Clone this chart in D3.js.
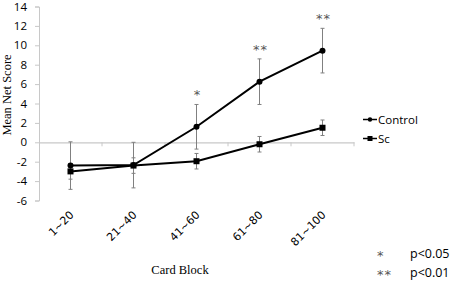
<!DOCTYPE html>
<html><head><meta charset="utf-8">
<script src="https://cdn.jsdelivr.net/npm/d3@7"></script>
<style>body{margin:0;background:#fff}svg{display:block}</style>
</head><body>
<svg id="c" width="454" height="283"></svg>
<script>
const categories = ["1~20","21~40","41~60","61~80","81~100"];
const controlValues = [-2.4, -2.35, 1.6, 6.25, 9.45];
const controlErrors = [2.45, 2.35, 2.3, 2.35, 2.3];
const scValues = [-3.0, -2.4, -1.95, -0.2, 1.5];
const scErrors = [0.8, 0.8, 0.8, 0.8, 0.8];
const significance = ["", "", "*", "**", "**"];
const yTicks = [-6,-4,-2,0,2,4,6,8,10,12,14];

const sans = "'Open Sans', 'Liberation Sans', Arial, sans-serif";
const svg = d3.select("#c");
const x = d3.scaleBand().domain(categories).range([39, 354]);
const y = d3.scaleLinear().domain([-6, 14]).range([200.5, 6.5]);
const cx = d => x(d) + x.bandwidth()/2;

// y axis
const ya = svg.append("g").attr("transform","translate(39,0)")
  .call(d3.axisLeft(y).tickValues(yTicks).tickSize(4).tickPadding(8));
ya.select(".domain").attr("stroke","#c8c8c8");
ya.selectAll(".tick line").attr("stroke","#c8c8c8");
ya.selectAll("text").attr("font-family",sans).attr("font-size",11.5).attr("fill","#000")
  .text(d => d < 0 ? "-" + Math.abs(d) : d);

// x axis line at zero
const xa = svg.append("g").attr("transform",`translate(0,${y(0)})`)
  .call(d3.axisBottom(x).tickSize(0).tickFormat(""));
xa.select(".domain").attr("stroke","#c8c8c8").attr("stroke-width",1.2);
svg.append("g").selectAll("line").data(categories).join("line")
  .attr("x1", d => x(d) + x.bandwidth()).attr("x2", d => x(d) + x.bandwidth())
  .attr("y1", y(0)).attr("y2", y(0)+4).attr("stroke","#c8c8c8");

// category labels at bottom, rotated
svg.append("g").selectAll("text").data(categories).join("text")
  .attr("transform", d => `translate(${cx(d)+4},${y(-6)+15}) rotate(-45)`)
  .attr("text-anchor","end")
  .attr("font-family","'DejaVu Sans', sans-serif").attr("font-size",11)
  .text(d => d);

// error bars
function errorBars(vals, errs) {
  const g = svg.append("g").attr("stroke","#808080").attr("stroke-width",1);
  categories.forEach((c,i) => {
    const x0 = cx(c);
    g.append("line").attr("x1",x0).attr("x2",x0).attr("y1",y(vals[i]+errs[i])).attr("y2",y(vals[i]-errs[i]));
    g.append("line").attr("x1",x0-2).attr("x2",x0+2).attr("y1",y(vals[i]+errs[i])).attr("y2",y(vals[i]+errs[i]));
    g.append("line").attr("x1",x0-2).attr("x2",x0+2).attr("y1",y(vals[i]-errs[i])).attr("y2",y(vals[i]-errs[i]));
  });
}
errorBars(controlValues, controlErrors);
errorBars(scValues, scErrors);

const line = d3.line().x((d,i) => cx(categories[i])).y(d => y(d));
svg.append("path").datum(controlValues).attr("d", line).attr("fill","none").attr("stroke","#000").attr("stroke-width",2);
svg.append("path").datum(scValues).attr("d", line).attr("fill","none").attr("stroke","#000").attr("stroke-width",2);
svg.append("g").selectAll("circle").data(controlValues).join("circle")
  .attr("cx",(d,i)=>cx(categories[i])).attr("cy",d=>y(d)).attr("r",3).attr("fill","#000");
svg.append("g").selectAll("rect").data(scValues).join("rect")
  .attr("x",(d,i)=>cx(categories[i])-3).attr("y",d=>y(d)-3).attr("width",6).attr("height",6).attr("fill","#000");

// significance stars
svg.append("g").selectAll("text").data(significance).join("text")
  .attr("x",(d,i)=>cx(categories[i])+1).attr("y",(d,i)=>y(controlValues[i]+controlErrors[i])-5)
  .attr("text-anchor","middle").attr("font-family","'DejaVu Sans', sans-serif")
  .attr("font-size",13).attr("fill","#555").attr("letter-spacing",1)
  .text(d => d);

// legend
const legend = [{name:"Control", shape:"circle"},{name:"Sc", shape:"square"}];
legend.forEach((l,i) => {
  const ly = 119.5 + i*19;
  const g = svg.append("g");
  g.append("line").attr("x1",363).attr("x2",377).attr("y1",ly).attr("y2",ly).attr("stroke","#000").attr("stroke-width",1.5);
  if (l.shape === "circle") g.append("circle").attr("cx",370).attr("cy",ly).attr("r",2.2).attr("fill","#000");
  else g.append("rect").attr("x",367.5).attr("y",ly-2.5).attr("width",5).attr("height",5).attr("fill","#000");
  g.append("text").attr("x",378).attr("y",ly+4.5).attr("font-family",sans).attr("font-size",11.5).text(l.name);
});

// axis titles
svg.append("text").attr("x",180).attr("y",274).attr("text-anchor","middle")
  .attr("font-family","Liberation Serif, Times New Roman, serif").attr("font-size",12.5).text("Card Block");
svg.append("text").attr("transform","translate(11,95) rotate(-90)").attr("text-anchor","middle")
  .attr("font-family","Liberation Serif, Times New Roman, serif").attr("font-size",12.5).text("Mean Net Score");

// footnote
const notes = [{s:"*", t:"p<0.05"},{s:"**", t:"p<0.01"}];
notes.forEach((n,i) => {
  const ny = 258 + i*19;
  svg.append("text").attr("x",377).attr("y",ny+2).attr("font-family","'DejaVu Sans', sans-serif").attr("font-size",13).attr("fill","#555").attr("letter-spacing",1).text(n.s);
  svg.append("text").attr("x",410).attr("y",ny).attr("font-family",sans).attr("font-size",12.5).text(n.t);
});
</script>
</body></html>
